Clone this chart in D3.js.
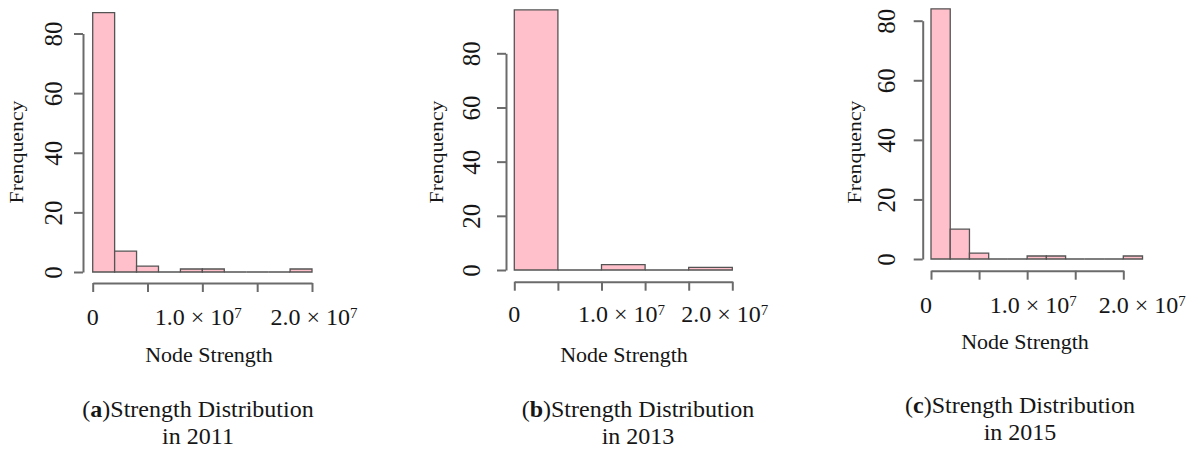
<!DOCTYPE html>
<html lang="en">

<head>
    <meta charset="utf-8">
    <script src="https://cdn.jsdelivr.net/npm/d3@7"></script>
    <style>
        body { margin: 0; background: #fff; }
        svg text { font-family: "Liberation Serif", "Times New Roman", serif; fill: #161616; }
    </style>
</head>

<body>
    <div id="my_dataviz"></div>
</body>

<script>

    // counts per bin
    const years = ["2011", "2013", "2015"];
    const letters = ["a", "b", "c"];
    const binWidths = [2e6, 5e6, 2e6];
    const counts2011 = [87, 7, 2, 0, 1, 1, 0, 0, 0, 1];
    const counts2013 = [96, 0, 2, 0, 1];
    const counts2015 = [84, 10, 2, 0, 0, 1, 1, 0, 0, 0, 1];

    // axis ticks and labels
    const yTicks = [0, 20, 40, 60, 80];
    const xTicks2011 = [0, 5e6, 1e7, 1.5e7, 2e7];
    const xTicks2013 = [0, 5e6, 1e7, 1.5e7, 2e7, 2.5e7];
    const xTicks2015 = [0, 5e6, 1e7, 1.5e7, 2e7];
    const xLabelValues = [0, 1e7, 2e7];
    const xLabelText = ["0", "1.0 × 10", "2.0 × 10"];
    const xLabelExp = ["", "7", "7"];

    // where each panel sits in the page
    const panels = [
        { counts: counts2011, xTicks: xTicks2011, xMax: 2e7, xRange: [92.7, 312], yRange: [272, 33.5], axisX: 83, axisY: 283,
          labelDx: [0, -4, 2], labelY: 325, tickGap: 21, yLabX: 23, nodeX: 209, nodeY: 362, capX: 198, capY: 417 },
        { counts: counts2013, xTicks: xTicks2013, xMax: 2.5e7, xRange: [514.3, 732.3], yRange: [270, 53.3], axisX: 506, axisY: 281.7,
          labelDx: [0, 20, 36], labelY: 322, tickGap: 26, yLabX: 443, nodeX: 624, nodeY: 362, capX: 638, capY: 417 },
        { counts: counts2015, xTicks: xTicks2015, xMax: 2e7, xRange: [931, 1123.3], yRange: [259, 20.7], axisX: 922.7, axisY: 270.7,
          labelDx: [-5, 6, 19], labelY: 313, tickGap: 28, yLabX: 861, nodeX: 1025, nodeY: 349, capX: 1020, capY: 413 }
    ];

    const svgWidth = 1192;
    const svgHeight = 452;
    const axisColor = "#6b6b6b";

    const svg = d3.select("#my_dataviz")
        .append("svg")
        .attr("width", svgWidth)
        .attr("height", svgHeight);

    panels.forEach(function (p, k) {
        const g = svg.append("g");

        const x = d3.scaleLinear().domain([0, p.xMax]).range(p.xRange);
        const y = d3.scaleLinear().domain([0, 80]).range(p.yRange);
        const bw = binWidths[k];

        // bars (paths so that empty bins still show as a line)
        g.selectAll("path.bar")
            .data(p.counts)
            .enter()
            .append("path")
            .attr("class", "bar")
            .attr("d", (d, i) => {
                const x0 = x(i * bw), x1 = x((i + 1) * bw);
                return `M${x0},${y(0)}V${y(d)}H${x1}V${y(0)}Z`;
            })
            .attr("fill", "#ffc0cb")
            .attr("stroke", "#545454")
            .attr("stroke-width", 1.3);

        // y axis
        const yAxis = g.append("g")
            .attr("transform", `translate(${p.axisX},0)`)
            .call(d3.axisLeft(y).tickValues(yTicks).tickSize(9).tickSizeOuter(0));
        yAxis.selectAll("text")
            .attr("x", 0)
            .attr("y", -p.tickGap)
            .attr("dy", 0)
            .attr("transform", "rotate(-90)")
            .attr("text-anchor", "middle")
            .style("font-size", "25px");

        // x axis
        g.append("g")
            .attr("transform", `translate(0,${p.axisY})`)
            .call(d3.axisBottom(x).tickValues(p.xTicks).tickSize(9).tickSizeOuter(0).tickFormat(""));

        g.selectAll(".domain, .tick line")
            .attr("stroke", axisColor)
            .attr("stroke-width", 2);
        g.selectAll(".tick text").attr("fill", "#161616").attr("font-family", null);

        // x tick labels with exponent
        const lab = g.selectAll("text.xlab")
            .data(xLabelValues)
            .enter()
            .append("text")
            .attr("class", "xlab")
            .attr("x", (d, i) => x(d) + p.labelDx[i])
            .attr("y", p.labelY)
            .attr("text-anchor", "middle")
            .style("font-size", "24px");
        lab.append("tspan").text((d, i) => xLabelText[i]);
        lab.append("tspan")
            .attr("dy", "-0.5em")
            .style("font-size", "15px")
            .text((d, i) => xLabelExp[i]);

        // axis titles
        g.append("text")
            .attr("transform", `translate(${p.yLabX},152) rotate(-90)`)
            .attr("text-anchor", "middle")
            .attr("textLength", 103)
            .attr("lengthAdjust", "spacingAndGlyphs")
            .style("font-size", "18px")
            .text("Frenquency");

        g.append("text")
            .attr("x", p.nodeX)
            .attr("y", p.nodeY)
            .attr("text-anchor", "middle")
            .style("font-size", "22px")
            .text("Node Strength");

        // caption
        const cap = g.append("text")
            .attr("x", p.capX)
            .attr("y", p.capY)
            .attr("text-anchor", "middle")
            .style("font-size", "24px");
        cap.append("tspan").text("(");
        cap.append("tspan").style("font-weight", "bold").text(letters[k]);
        cap.append("tspan").text(")Strength Distribution");

        g.append("text")
            .attr("x", p.capX)
            .attr("y", p.capY + 27)
            .attr("text-anchor", "middle")
            .style("font-size", "24px")
            .text("in " + years[k]);
    });

</script>

</html>
